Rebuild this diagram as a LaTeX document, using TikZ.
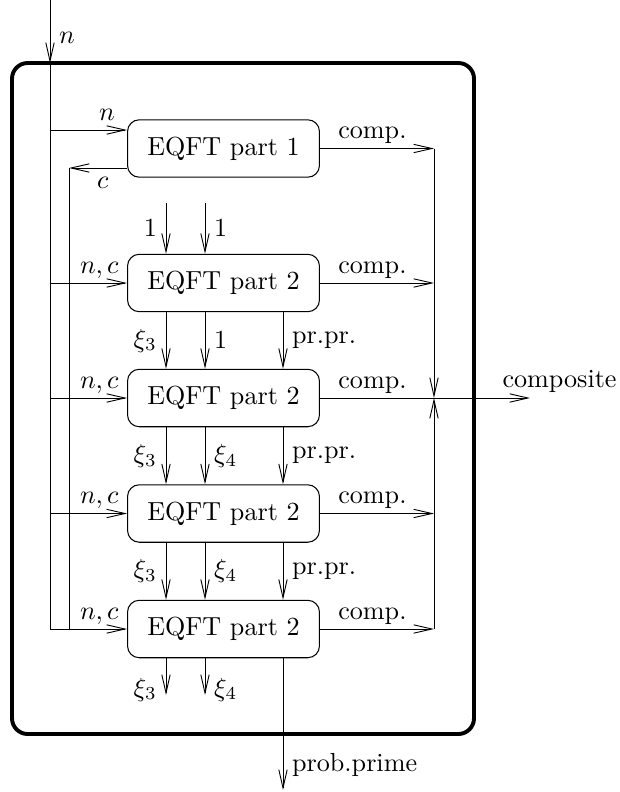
\documentclass[tikz,border=0pt]{standalone}
\usetikzlibrary{arrows.meta}
\begin{document}
\begin{tikzpicture}[x=0.383pt,y=-0.383pt,
  arr/.style={-{Straight Barb[length=7pt,width=3.2pt]},line width=0.35pt},
  ln/.style={line width=0.35pt},
  eq/.style={draw,line width=0.4pt,rounded corners=4.5pt,minimum width=73.5pt,minimum height=22pt,inner sep=0pt},
  lab/.style={above,yshift=-1.8pt},
  frame/.style={line width=1.5pt,rounded corners=6pt}]
\useasboundingbox (0,0) rectangle (619,792);
\draw[frame] (12,63) rectangle (474,734);
% columns
\coordinate (L1) at (50,0);
\coordinate (L2) at (69,0);
\coordinate (R) at (434,0);
\coordinate (cA) at (166,0);
\coordinate (cB) at (205,0);
\coordinate (cC) at (283,0);
\coordinate (top) at (50,0);
\coordinate (fin) at (50,63);
\coordinate (tA) at (166,203);
\coordinate (tB) at (205,203);
\coordinate (bA) at (166,695);
\coordinate (bB) at (205,695);
\coordinate (bC) at (283,790);
\coordinate (cend) at (530,398);
% boxes
\node[eq] (b1) at (223.5,148.5) {EQFT part 1};
\node[eq] (b2) at (223.5,283) {EQFT part 2};
\node[eq] (b3) at (223.5,398) {EQFT part 2};
\node[eq] (b4) at (223.5,513.5) {EQFT part 2};
\node[eq] (b5) at (223.5,629) {EQFT part 2};
% main input
\draw[arr] (top) -- node[right,pos=0.6]{$n$} (fin);
\draw[ln] (fin) -- (b5.west -| L1);
% to box 1
\coordinate (b1n) at (b1.west |- 0,130);
\draw[arr] (b1n -| L1) -- node[above,pos=0.74]{$n$} (b1n);
\coordinate (b1c) at (b1.west |- 0,168);
\draw[arr] (b1c) -- node[below,pos=0.42]{$c$} (b1c -| L2);
\draw[ln] (b1c -| L2) -- (b5.west -| L2);
% n,c arrows
\foreach \b in {b2,b3,b4,b5}{
  \draw[arr] (\b.west -| L1) -- node[lab,pos=0.64]{$n,c$} (\b.west);
}
% comp arrows
\draw[arr] (b1.east) -- node[lab,pos=0.46]{comp.} (b1.east -| R);
\draw[arr] (b2.east) -- node[lab,pos=0.46]{comp.} (b2.east -| R);
\draw[arr] (b4.east) -- node[lab,pos=0.46]{comp.} (b4.east -| R);
\draw[arr] (b5.east) -- node[lab,pos=0.46]{comp.} (b5.east -| R);
\draw[arr] (b3.east) -- node[lab,pos=0.25]{comp.} (cend);
\node[anchor=south west,inner sep=0pt] (complabel) at (502,393) {composite};
\draw[arr] (b1.east -| R) -- (b3.east -| R);
\draw[arr] (b5.east -| R) -- (b3.east -| R);
% top inputs
\draw[arr] (tA) -- node[left,pos=0.5]{$1$} (b2.north -| cA);
\draw[arr] (tB) -- node[right,pos=0.5]{$1$} (b2.north -| cB);
% between boxes
\draw[arr] (b2.south -| cA) -- node[left,pos=0.5]{$\xi_3$} (b3.north -| cA);
\draw[arr] (b2.south -| cB) -- node[right,pos=0.5]{$1$} (b3.north -| cB);
\draw[arr] (b2.south -| cC) -- node[right,pos=0.5]{pr.pr.} (b3.north -| cC);
\draw[arr] (b3.south -| cA) -- node[left,pos=0.5]{$\xi_3$} (b4.north -| cA);
\draw[arr] (b3.south -| cB) -- node[right,pos=0.5]{$\xi_4$} (b4.north -| cB);
\draw[arr] (b3.south -| cC) -- node[right,pos=0.5]{pr.pr.} (b4.north -| cC);
\draw[arr] (b4.south -| cA) -- node[left,pos=0.5]{$\xi_3$} (b5.north -| cA);
\draw[arr] (b4.south -| cB) -- node[right,pos=0.5]{$\xi_4$} (b5.north -| cB);
\draw[arr] (b4.south -| cC) -- node[right,pos=0.5]{pr.pr.} (b5.north -| cC);
% bottom outputs
\draw[arr] (b5.south -| cA) -- node[left,pos=0.85]{$\xi_3$} (bA);
\draw[arr] (b5.south -| cB) -- node[right,pos=0.85]{$\xi_4$} (bB);
\draw[arr] (b5.south -| cC) -- node[right,pos=0.81]{prob.prime} (bC);
\end{tikzpicture}
\end{document}
